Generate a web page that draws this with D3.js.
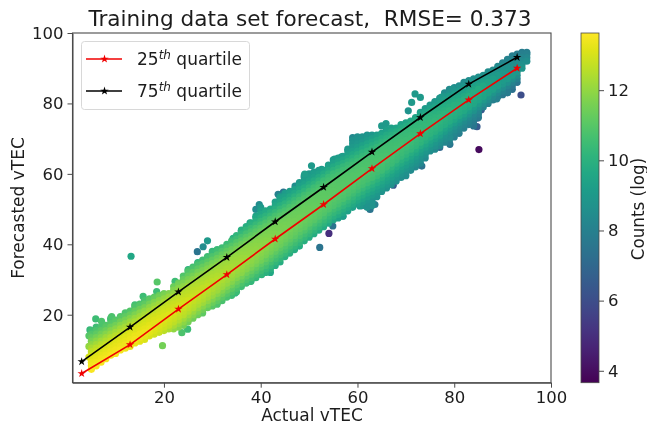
<!DOCTYPE html>
<html>
<head>
<meta charset="utf-8">
<script src="https://cdn.jsdelivr.net/npm/d3@7"></script>
<style>
  html, body { margin: 0; padding: 0; background: #fff; }
  svg { display: block; font-family: "DejaVu Sans", sans-serif; filter: blur(0.35px); }
  .axis text { fill: #1c1c1c; }
</style>
</head>
<body>
<svg id="chart"></svg>
<script>
const width = 647;
const height = 427;

const titleText = "Training data set forecast,  RMSE= 0.373";
const xTicks = [20, 40, 60, 80, 100];
const yTicks = [20, 40, 60, 80, 100];
const colorTicks = [4, 6, 8, 10, 12];

// quartile lines
const quartileX = [3, 13, 23, 33, 43, 53, 63, 73, 83, 93];
const q25 = [3.3, 11.5, 21.6, 31.4, 41.5, 51.3, 61.5, 71.4, 81, 90];
const q75 = [6.7, 16.5, 26.5, 36.3, 46.4, 56.2, 66.2, 76, 85.5, 93.1];

// outer edge of the dense cloud, one entry per unit of actual vTEC (5..95)
const cloudStart = 5;
const cloudUpper = [15.5, 16.5, 16.5, 17, 19, 18.5, 19.5, 20.5, 21, 22.5, 23, 24, 24.5, 25, 25.5, 26, 26,
  28, 29, 31, 32.5, 33.5, 34.5, 35.5, 36.5, 38, 38.5, 39, 40, 41, 42.5, 44, 45, 46, 48, 50.5, 49.5, 50, 52, 53.5,
  54.5, 55, 55.5, 57.5, 59.5, 60, 60.5, 61, 61, 62.5, 64, 64.5, 65, 67, 69.5, 70.5, 70.5, 71, 71, 71, 71.5, 72.5,
  73, 73, 74, 74.5, 75, 76, 77.5, 78.5, 79.5, 80.5, 81.5, 83, 84, 84.5, 85, 86, 86.5, 87, 87.5, 88, 89, 89.5, 90.5,
  91.5, 92.5, 93.5, 94, 94.5, 94.5];
const cloudLower = [4.5, 5.5, 6.5, 7.5, 8.5, 9, 10, 10.5, 11, 12, 12.5, 13, 14, 14.5, 15, 15.5, 16, 16, 16.5,
  17, 18, 19, 20, 20.5, 22, 22.5, 23, 24, 25, 25.5, 26.5, 28, 29, 29.5, 30.5, 31.5, 32, 32, 34, 35, 36.5, 37.5,
  38.5, 39.5, 41, 42, 43, 44, 45, 46, 47, 47.5, 48, 49.5, 50.5, 51.5, 51, 50.5, 51, 53.5, 55, 56, 57, 58, 59, 59.5,
  61, 62, 63, 64.5, 66.5, 67, 68, 69, 69, 70.5, 71.5, 73, 74, 74, 76, 79, 80, 81, 82, 82.5, 83, 84, 86, 90, 92];

// log counts: rows are actual vTEC, columns forecast minus actual
const countRows = [3, 15, 25, 35, 45, 55, 65, 75, 85, 95];
const countCols = [-10, -7, -4, -1, 2, 5, 8, 11];
const countTable = [
  [12, 12.5, 13.3, 13.6, 13.3, 12.6, 11.5, 10.5],
  [11, 12, 13, 13.4, 13, 12, 10.8, 10],
  [10.5, 11.5, 12.5, 12.9, 12.5, 11.6, 10.5, 9.5],
  [10, 10.9, 11.9, 12.3, 12, 11.1, 10, 9],
  [9.5, 10.5, 11.3, 11.6, 11.4, 10.6, 9.5, 8.7],
  [8.8, 10, 10.8, 11.1, 11, 10.4, 9.3, 8.7],
  [8.8, 9.6, 10.5, 10.8, 10.6, 9.8, 8.8, 8.5],
  [8.2, 9, 10, 10.3, 10, 8.8, 8.2, 8],
  [7.5, 8.2, 9.5, 9.8, 8.8, 7.8, 7.5, 7.5],
  [6.5, 7.4, 8.8, 8, 7.3, 7, 7, 7]
];

// stray points outside the cloud: [actual, forecast, log count]
const strayPoints = [
  [13.2, 36.6, 9.6], [19.7, 11.2, 11.5], [24.9, 15.9, 10.5], [15.7, 25.2, 10.5], [18.6, 29.3, 11],
  [5.9, 18.8, 10.5], [26.9, 37.9, 7.5], [28.1, 39.3, 8.5], [29, 41, 9], [34.3, 41.7, 10],
  [39, 49.9, 8.5], [39.7, 51.3, 8.5], [43.6, 54.2, 8], [44.7, 54.8, 7.5], [45.6, 54.2, 8],
  [47.1, 56.5, 8.5], [50.5, 62.3, 9], [55.3, 64.2, 9], [56.7, 64.8, 9], [59, 70.3, 8.3],
  [65, 73.6, 9], [65.9, 74.3, 9], [54.9, 45.2, 7.5], [62.6, 49.9, 7.5], [63.6, 51.3, 8],
  [60.5, 50.9, 9], [65.7, 56.7, 7], [67.4, 56.8, 6.5], [71.9, 82.7, 9], [73, 81.7, 9],
  [71.2, 80.3, 9], [70.5, 77.9, 8.8], [85.1, 66.9, 3.9], [93.8, 82.4, 6], [84, 73.6, 7.5],
  [84.7, 73.4, 6.5], [84.8, 75.8, 6.5], [85.6, 78.2, 6.5], [77, 67.5, 7], [79.1, 68.4, 7.5],
  [73.3, 62.2, 7.5], [54.1, 43.1, 5], [52.2, 39.1, 7.5], [63.2, 53.3, 7.5],
  [4.5, 14, 11], [4.5, 11, 12], [4.5, 8, 13],
  // bumps along the edge of the cloud
  [4.7, 15.7, 10.3], [9.2, 19.5, 10.8], [7.1, 18.1, 10.8], [14, 22.8, 10.5], [18.5, 26.6, 10.5],
  [22.3, 29.5, 10.5], [25, 32.8, 10], [27, 34.8, 10], [23.7, 14.9, 10.8], [36, 43.7, 9.5],
  [37.8, 46.1, 9.5], [41.9, 49.4, 9.5], [40.2, 31.4, 10], [37.8, 29.5, 10], [34.7, 26.2, 10],
  [52.6, 61.3, 9], [49.1, 59.9, 9.2], [57, 48, 9], [77.4, 81.8, 9], [79.7, 84.1, 8.8],
  [85.6, 87.4, 8.3], [88.8, 81.3, 8], [91, 83.2, 7.8], [79.1, 70.4, 8.5]
];

const x = d3.scaleLinear().domain([1.1, 100]).range([72.5, 551]);
const y = d3.scaleLinear().domain([0.7, 100]).range([382.7, 33]);
const cy = d3.scaleLinear().domain([3.66, 13.63]).range([382.7, 33]);
const color = d3.scaleSequential(d3.interpolateViridis).domain([3.66, 13.63]);

const rowIndex = d3.scaleLinear().domain(countRows).range(d3.range(countRows.length)).clamp(true);
const colIndex = d3.scaleLinear().domain(countCols).range(d3.range(countCols.length)).clamp(true);

// look up the table for a spot in the cloud
function countAt(actual, forecast) {
  const r = rowIndex(actual), c = colIndex(forecast - actual);
  const r0 = Math.floor(r), c0 = Math.floor(c);
  const r1 = Math.min(r0 + 1, countRows.length - 1), c1 = Math.min(c0 + 1, countCols.length - 1);
  const top = d3.interpolateNumber(countTable[r0][c0], countTable[r0][c1])(c - c0);
  const bot = d3.interpolateNumber(countTable[r1][c0], countTable[r1][c1])(c - c0);
  return d3.interpolateNumber(top, bot)(r - r0);
}

const cloud = [];
cloudUpper.forEach((hi, i) => {
  const actual = cloudStart + i;
  const ys = d3.range(cloudLower[i], hi, 1).concat([hi]);
  ys.forEach(f => cloud.push({ x: actual, y: f, c: countAt(actual, f) }));
});
strayPoints.forEach(p => cloud.push({ x: p[0], y: p[1], c: p[2] }));
// densest points on top, as the original scatter does
cloud.sort((a, b) => a.c - b.c);

const svg = d3.select("#chart").attr("width", width).attr("height", height);

svg.append("g").selectAll("circle")
  .data(cloud)
  .join("circle")
  .attr("cx", d => x(d.x))
  .attr("cy", d => y(d.y))
  .attr("r", 3.6)
  .attr("fill", d => color(d.c));

// quartile lines
const lineGen = d3.line().x((d, i) => x(quartileX[i])).y(d => y(d));
const star = d3.symbol().type(d3.symbolStar).size(22);

function drawQuartile(values, stroke) {
  const g = svg.append("g");
  g.append("path").datum(values)
    .attr("d", lineGen)
    .attr("fill", "none")
    .attr("stroke", stroke)
    .attr("stroke-width", 1.6);
  g.selectAll("path.mark").data(values).join("path")
    .attr("class", "mark")
    .attr("d", star)
    .attr("fill", stroke)
    .attr("transform", (d, i) => `translate(${x(quartileX[i])},${y(d)})`);
}
drawQuartile(q25, "#f00000");
drawQuartile(q75, "#000");

// axes and frame
const axisColor = "#4a4a4a";
const xAxis = svg.append("g").attr("class", "axis")
  .attr("transform", "translate(0,382.7)")
  .call(d3.axisBottom(x).tickValues(xTicks).tickSize(5).tickSizeOuter(0).tickPadding(4));
const yAxis = svg.append("g").attr("class", "axis")
  .attr("transform", "translate(72.5,0)")
  .call(d3.axisLeft(y).tickValues(yTicks).tickSize(5).tickSizeOuter(0).tickPadding(4));
[xAxis, yAxis].forEach(a => {
  a.attr("font-size", 16.5).attr("font-family", "DejaVu Sans");
  a.selectAll("line").attr("stroke", axisColor);
  a.select(".domain").attr("stroke", axisColor);
});
svg.append("rect")
  .attr("x", 72.5).attr("y", 33).attr("width", 478.5).attr("height", 349.7)
  .attr("fill", "none").attr("stroke", axisColor).attr("stroke-width", 1.1);

svg.append("text").attr("x", 310).attr("y", 26)
  .attr("text-anchor", "middle").attr("font-size", 21.6).attr("fill", "#1c1c1c")
  .style("white-space", "pre")
  .text(titleText);
svg.append("text").attr("x", 312).attr("y", 421)
  .attr("text-anchor", "middle").attr("font-size", 17).attr("fill", "#1c1c1c")
  .text("Actual vTEC");
svg.append("text").attr("transform", "translate(24,208) rotate(-90)")
  .attr("text-anchor", "middle").attr("font-size", 17).attr("fill", "#1c1c1c")
  .text("Forecasted vTEC");

// legend
const legend = svg.append("g");
legend.append("rect")
  .attr("x", 81.5).attr("y", 41.5).attr("width", 168).attr("height", 68).attr("rx", 3)
  .attr("fill", "#fff").attr("stroke", "#d8d8d8");
const legendRows = [
  { lab: "25", stroke: "#f00000", yy: 59 },
  { lab: "75", stroke: "#000", yy: 91 }
];
legendRows.forEach(r => {
  legend.append("line")
    .attr("x1", 86).attr("x2", 122).attr("y1", r.yy).attr("y2", r.yy)
    .attr("stroke", r.stroke).attr("stroke-width", 1.6);
  legend.append("path").attr("d", star)
    .attr("fill", r.stroke)
    .attr("transform", `translate(104.5,${r.yy})`);
  const t = legend.append("text").attr("x", 137).attr("y", r.yy + 6)
    .attr("font-size", 17).attr("fill", "#1c1c1c");
  t.append("tspan").text(r.lab);
  t.append("tspan").attr("font-size", 12).attr("font-style", "italic").attr("dy", -6).text("th");
  t.append("tspan").attr("dy", 6).text(" quartile");
});

// colour bar
const gradient = svg.append("defs").append("linearGradient")
  .attr("id", "viridis").attr("x1", 0).attr("x2", 0).attr("y1", 1).attr("y2", 0);
d3.range(0, 1.0001, 0.05).forEach(t => {
  gradient.append("stop").attr("offset", t).attr("stop-color", d3.interpolateViridis(t));
});
svg.append("rect")
  .attr("x", 581).attr("y", 33).attr("width", 18).attr("height", 349.7)
  .attr("fill", "url(#viridis)").attr("stroke", axisColor).attr("stroke-width", 0.8);
const cAxis = svg.append("g").attr("class", "axis")
  .attr("transform", "translate(599,0)")
  .call(d3.axisRight(cy).tickValues(colorTicks).tickSize(5).tickPadding(4));
cAxis.attr("font-size", 16.5).attr("font-family", "DejaVu Sans");
cAxis.select(".domain").remove();
cAxis.selectAll("line").attr("stroke", axisColor);
svg.append("text").attr("transform", "translate(644,209) rotate(-90)")
  .attr("text-anchor", "middle").attr("font-size", 16.8).attr("fill", "#1c1c1c")
  .text("Counts (log)");
</script>
</body>
</html>
